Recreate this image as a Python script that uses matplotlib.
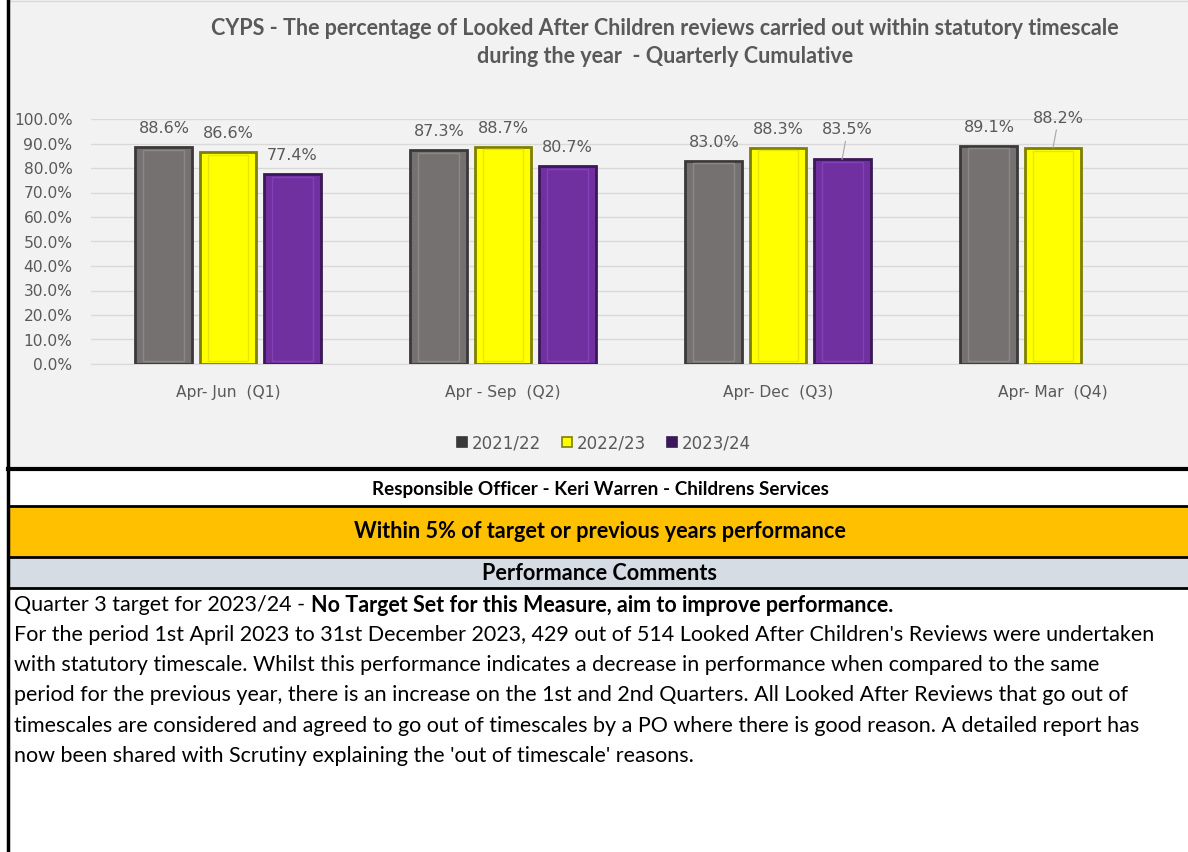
import matplotlib
matplotlib.use('Agg')
from matplotlib import pyplot as plt
from matplotlib.patches import Rectangle, Patch
import numpy as np

# chart data
quarters = ['Apr- Jun  (Q1)', 'Apr - Sep  (Q2)', 'Apr- Dec  (Q3)', 'Apr- Mar  (Q4)']
years = ['2021/22', '2022/23', '2023/24']
v_2122 = [88.6, 87.3, 83.0, 89.1]
v_2223 = [86.6, 88.7, 88.3, 88.2]
v_2324 = [77.4, 80.7, 83.5, np.nan]

title = ('CYPS - The percentage of Looked After Children reviews carried out within statutory timescale\n'
         'during the year  - Quarterly Cumulative')
officer = 'Responsible Officer - Keri Warren - Childrens Services'
status = 'Within 5% of target or previous years performance'
comments_head = 'Performance Comments'
first_plain = 'Quarter 3 target for 2023/24 - '
first_bold = 'No Target Set for this Measure, aim to improve performance.'
comment_lines = [
  "For the period 1st April 2023 to 31st December 2023, 429 out of 514 Looked After Children's Reviews were undertaken",
  'with statutory timescale. Whilst this performance indicates a decrease in performance when compared to the same',
  'period for the previous year, there is an increase on the 1st and 2nd Quarters. All Looked After Reviews that go out of',
  'timescales are considered and agreed to go out of timescales by a PO where there is good reason. A detailed report has',
  "now been shared with Scrutiny explaining the 'out of timescale' reasons.",
]

fills = ['#767171', '#FFFF00', '#7030A0']
edges = ['#3A3838', '#7F7F00', '#3B1858']
inner = ['#8C8888', '#E6E600', '#8440B8']

W, H = 1188, 852
fig = plt.figure(figsize=(W / 100, H / 100), dpi=100)

# background layer in pixel coordinates
bg = fig.add_axes([0, 0, 1, 1])
bg.set_xlim(0, W)
bg.set_ylim(H, 0)
bg.axis('off')
bg.add_patch(Rectangle((8, 0), W - 8, 469, facecolor='#F2F2F2', edgecolor='none'))
bg.add_patch(Rectangle((8, 469), W - 8, 38, facecolor='white', edgecolor='none'))
bg.add_patch(Rectangle((8, 507), W - 8, 50, facecolor='#FFC000', edgecolor='none'))
bg.add_patch(Rectangle((8, 557), W - 8, 31, facecolor='#D6DCE4', edgecolor='none'))
bg.add_patch(Rectangle((8, 588), W - 8, H - 588, facecolor='white', edgecolor='none'))
bg.plot([8, W], [1, 1], color='#D9D9D9', lw=1)
for yy, lw in [(469, 3), (506, 2), (557, 2), (588, 2)]:
  bg.plot([8, W], [yy, yy], color='black', lw=lw)
bg.plot([8, 8], [0, H], color='black', lw=2.5)

tfont = ['Lato', 'DejaVu Sans']
bg.text(665, 42.5, title, ha='center', va='center', fontsize=15.5, fontweight='bold',
        color='#595959', family=tfont, linespacing=1.45)
bg.text(600, 490, officer, ha='center', va='center', fontsize=13.6, fontweight='bold', family=tfont)
bg.text(600, 532, status, ha='center', va='center', fontsize=15.6, fontweight='bold', family=tfont)
bg.text(600, 574, comments_head, ha='center', va='center', fontsize=15.6, fontweight='bold', family=tfont)

fs = 15.5
fig.canvas.draw()
renderer = fig.canvas.get_renderer()
t1 = bg.text(14, 605, first_plain, ha='left', va='center', fontsize=fs, family=tfont)
bb = t1.get_window_extent(renderer)
bg.text(bb.x1, H - 605, first_bold, ha='left', va='center', fontsize=fs, fontweight='bold',
        family=tfont, transform=None)
for i, line in enumerate(comment_lines):
  bg.text(14, 635 + 30.2 * i, line, ha='left', va='center', fontsize=fs, family=tfont)

# the chart
ax = fig.add_axes([90.5 / W, (H - 364) / H, 1100 / W, 245 / H])
ax.set_facecolor('none')
ax.set_xlim(-0.5, 3.5)
ax.set_ylim(0, 100)
x = np.arange(len(quarters))
pitch = 0.233
bw = 0.207
series = [v_2122, v_2223, v_2324]
# labels Excel pushed up with a leader line: (series, quarter)
lifted = {(2, 2), (1, 3)}
for k, vals in enumerate(series):
  pos = x + (k - 1) * pitch
  vals = np.array(vals, dtype=float)
  ax.bar(pos, vals, width=bw, color=fills[k], edgecolor=edges[k], linewidth=2, zorder=3)
  ax.bar(pos, vals - 2.2, bottom=1.1, width=bw * 0.72, color='none', edgecolor=inner[k],
         linewidth=1, zorder=4)
  for q, (xp, v) in enumerate(zip(pos, vals)):
    if np.isnan(v):
      continue
    if (k, q) in lifted:
      ax.annotate(f'{v:.1f}%', (xp, v), xytext=(4, 16), textcoords='offset points',
                  ha='center', va='bottom', fontsize=11.5, color='#595959',
                  arrowprops=dict(arrowstyle='-', color='#A6A6A6', lw=0.8,
                                  shrinkA=1, shrinkB=0))
    else:
      ax.annotate(f'{v:.1f}%', (xp, v), xytext=(0, 8), textcoords='offset points',
                  ha='center', va='bottom', fontsize=11.5, color='#595959')

ax.set_yticks(np.arange(0, 101, 10))
ax.set_yticklabels([f'{t:.1f}%' for t in np.arange(0, 101, 10)])
ax.set_xticks(x)
ax.set_xticklabels(quarters)
ax.tick_params(axis='y', length=0, pad=13, labelsize=11.2, labelcolor='#595959')
ax.tick_params(axis='x', length=0, pad=15, labelsize=11.2, labelcolor='#595959')
ax.grid(axis='y', color='#D9D9D9', lw=1, zorder=0)
for s in ax.spines.values():
  s.set_visible(False)
ax.spines['bottom'].set_visible(True)
ax.spines['bottom'].set_color('#D9D9D9')

handles = [Patch(facecolor=edges[k] if k != 1 else fills[k], edgecolor=edges[k], linewidth=1.2)
           for k in range(3)]
fig.legend(handles, years, loc='center', bbox_to_anchor=(604 / W, 1 - 443 / H), ncol=3,
           frameon=False, fontsize=12, handlelength=0.6, handleheight=0.6,
           handletextpad=0.25, columnspacing=1.3, labelcolor='#595959')

plt.savefig('out.png', dpi=100)
plt.close()
